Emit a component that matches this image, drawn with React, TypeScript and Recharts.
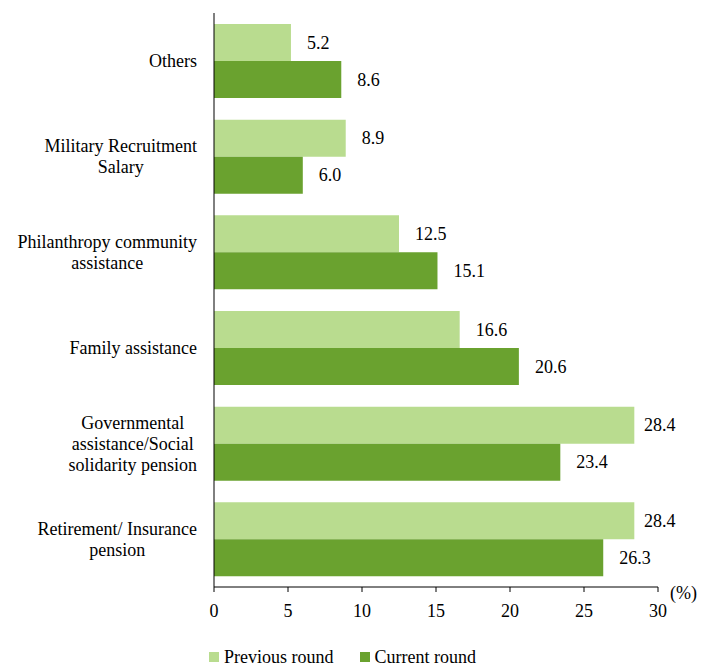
import { Bar, BarChart, LabelList, Legend, XAxis, YAxis, Label } from 'recharts';

const categories = [
  'Others',
  'Military Recruitment\nSalary',
  'Philanthropy community\nassistance',
  'Family assistance',
  'Governmental\nassistance/Social\nsolidarity pension',
  'Retirement/ Insurance\npension',
];
const previousRound = [5.2, 8.9, 12.5, 16.6, 28.4, 28.4];
const currentRound = [8.6, 6.0, 15.1, 20.6, 23.4, 26.3];
const xTicks = [0, 5, 10, 15, 20, 25, 30];
const bandTicks = [0, 1, 2, 3, 4, 5, 6];
const seriesNames = ['Previous round', 'Current round'];

const rows = categories.map((name, i) => ({
  name,
  previous: previousRound[i],
  current: currentRound[i],
}));

const LIGHT = '#b9dc8f';
const DARK = '#6aa22f';
const FONT = '"Liberation Serif", serif';
const FS = 18;
const LABEL_MAX_X = 644;

let ctx: CanvasRenderingContext2D | null = null;
function textWidth(s: string): number {
  if (!ctx) ctx = document.createElement('canvas').getContext('2d');
  if (!ctx) return s.length * 8;
  ctx.font = `${FS}px ${FONT}`;
  return ctx.measureText(s).width;
}

// multi-line category labels, lines centred inside a right-aligned block
function CategoryTick({ x, y, payload }: any) {
  const lines = String(payload.value).split('\n');
  const widest = Math.max(...lines.map(textWidth));
  const right = x - 9;
  const cx = right - widest / 2;
  const lineH = 21;
  const startY = y - ((lines.length - 1) * lineH) / 2;
  return (
    <text fontSize={FS} fill="#000" fontFamily={FONT} textAnchor="middle">
      {lines.map((l, i) => (
        <tspan key={i} x={cx} y={startY + i * lineH} dominantBaseline="central">
          {l}
        </tspan>
      ))}
    </text>
  );
}

function ValueLabel({ x, y, width, height, value }: any) {
  const lx = Math.min(x + width + 16, LABEL_MAX_X);
  return (
    <text
      x={lx}
      y={y + height / 2}
      fontSize={FS}
      fill="#000"
      fontFamily={FONT}
      dominantBaseline="central"
    >
      {Number(value).toFixed(1)}
    </text>
  );
}

function PercentLabel({ viewBox }: any) {
  return (
    <text
      x={viewBox.x + viewBox.width + 12}
      y={viewBox.y + 6}
      fontSize={FS}
      fill="#000"
      fontFamily={FONT}
      dominantBaseline="central"
    >
      (%)
    </text>
  );
}

function LegendRow() {
  const colors = [LIGHT, DARK];
  return (
    <div
      style={{
        display: 'flex',
        alignItems: 'center',
        height: 20,
        paddingLeft: 209,
        fontFamily: FONT,
        fontSize: FS,
        color: '#000',
      }}
    >
      {seriesNames.map((n, i) => (
        <div key={n} style={{ display: 'flex', alignItems: 'center', marginRight: 26 }}>
          <span
            style={{ width: 10, height: 10, background: colors[i], marginRight: 5, display: 'inline-block' }}
          />
          <span>{n}</span>
        </div>
      ))}
    </div>
  );
}

export default function App() {
  return (
    <div style={{ position: 'absolute', left: 0, top: 0, width: 704, height: 667, background: '#fff' }}>
      <BarChart
        width={704}
        height={667}
        data={rows}
        layout="vertical"
        margin={{ top: 13, right: 46, bottom: 0, left: 0 }}
        barCategoryGap="11.5%"
        barGap={0}
        style={{ fontFamily: FONT }}
      >
        <XAxis
          type="number"
          domain={[0, 30]}
          ticks={xTicks}
          height={60}
          tick={{ fontSize: FS, fill: '#000', fontFamily: FONT }}
          tickSize={5}
          tickMargin={12}
          axisLine={{ stroke: '#000' }}
          tickLine={{ stroke: '#000' }}
        >
          <Label content={<PercentLabel />} />
        </XAxis>
        <YAxis
          type="category"
          dataKey="name"
          width={214}
          tick={<CategoryTick />}
          tickLine={false}
          axisLine={{ stroke: '#000' }}
          interval={0}
        />
        <YAxis
          yAxisId="bands"
          type="number"
          domain={[0, 6]}
          ticks={bandTicks}
          width={0}
          tickSize={7}
          tickFormatter={() => ''}
          axisLine={false}
          tickLine={{ stroke: '#000' }}
          allowDataOverflow
        />
        <Legend verticalAlign="bottom" height={20} wrapperStyle={{ left: 0, width: 704 }} content={() => <LegendRow />} />
        <Bar dataKey="previous" name={seriesNames[0]} fill={LIGHT} isAnimationActive={false}>
          <LabelList dataKey="previous" content={<ValueLabel />} />
        </Bar>
        <Bar dataKey="current" name={seriesNames[1]} fill={DARK} isAnimationActive={false}>
          <LabelList dataKey="current" content={<ValueLabel />} />
        </Bar>
      </BarChart>
    </div>
  );
}
